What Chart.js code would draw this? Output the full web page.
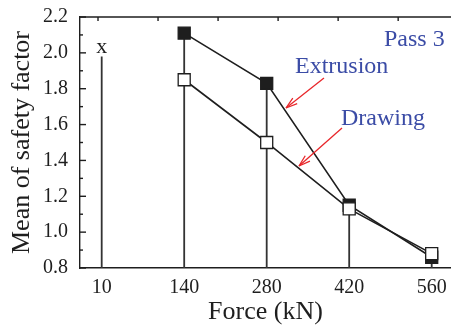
<!DOCTYPE html>
<html>
<head>
<meta charset="utf-8">
<script src="https://cdn.jsdelivr.net/npm/chart.js@4/dist/chart.umd.min.js"></script>
<style>
  html, body { margin: 0; padding: 0; background: #fff; overflow: hidden; }
  #box { width: 451px; height: 325px; position: relative; }
</style>
</head>
<body>
<div id="box"><canvas id="grafico"></canvas></div>
<script>
// dados
var forcas = ['10', '140', '280', '420', '560'];
var extrusao = [null, 2.11, 1.83, 1.15, 0.86];
var trefilacao = [null, 1.85, 1.50, 1.13, 0.88];
var hastes = [1.98, 2.11, 1.83, 1.15, 0.86];   // linhas verticais ate o eixo
var marcaX = 1.98;                              // ponto "x" em 10 kN
var yMin = 0.8, yMax = 2.2, yPasso = 0.2;
var topoTicks = [0, 100, 200, 300, 400, 500];   // marcas do eixo de cima
var topoMin = -30, topoMax = 588;

var azul = '#3b4ca6';
var vermelho = '#e8262a';
var preto = '#1e1e1e';
var serif = '"Liberation Serif", "DejaVu Serif", serif';

function pontos(valores) {
    return valores.map(function(v, i) { return { x: i, y: v }; });
}

// hastes: pares (base, topo) separados por null
var dadosHastes = [];
hastes.forEach(function(v, i) {
    dadosHastes.push({ x: i, y: yMin });
    dadosHastes.push({ x: i, y: v });
    dadosHastes.push({ x: i, y: null });
});

function seta(ctx, x1, y1, x2, y2) {
    var ang = Math.atan2(y2 - y1, x2 - x1);
    ctx.beginPath();
    ctx.moveTo(x1, y1);
    ctx.lineTo(x2, y2);
    ctx.stroke();
    ctx.beginPath();
    ctx.moveTo(x2, y2);
    ctx.lineTo(x2 - 12 * Math.cos(ang - 0.3), y2 - 12 * Math.sin(ang - 0.3));
    ctx.moveTo(x2, y2);
    ctx.lineTo(x2 - 12 * Math.cos(ang + 0.3), y2 - 12 * Math.sin(ang + 0.3));
    ctx.stroke();
}

var extras = {
    id: 'extras',
    afterDraw: function(chart) {
        var ctx = chart.ctx;
        var area = chart.chartArea;
        var xs = chart.scales.x, ys = chart.scales.y;
        ctx.save();
        ctx.strokeStyle = preto;
        ctx.lineWidth = 1.4;

        // borda de cima
        ctx.beginPath();
        ctx.moveTo(area.left, area.top);
        ctx.lineTo(area.right, area.top);
        ctx.stroke();

        // marcas para dentro no eixo y
        for (var v = yMin; v <= yMax + 0.001; v += yPasso / 2) {
            var py = ys.getPixelForValue(v);
            var maior = Math.abs(Math.round(v / yPasso) * yPasso - v) < 0.01;
            ctx.beginPath();
            ctx.moveTo(area.left, py);
            ctx.lineTo(area.left + (maior ? 6 : 3), py);
            ctx.stroke();
        }

        // marcas do eixo de cima
        topoTicks.forEach(function(t) {
            var px = area.left + (t - topoMin) / (topoMax - topoMin) * (area.right - area.left);
            ctx.beginPath();
            ctx.moveTo(px, area.top);
            ctx.lineTo(px, area.top + 4);
            ctx.stroke();
        });

        // "x" em 10 kN
        ctx.fillStyle = preto;
        ctx.font = '22px ' + serif;
        ctx.textAlign = 'center';
        ctx.textBaseline = 'alphabetic';
        ctx.fillText('x', xs.getPixelForValue(0), ys.getPixelForValue(marcaX) - 3);

        // textos em azul
        ctx.fillStyle = azul;
        ctx.font = '24px ' + serif;
        ctx.textAlign = 'left';
        ctx.fillText('Pass 3', 384, 46);
        ctx.fillText('Extrusion', 295, 73);
        ctx.fillText('Drawing', 341, 125);

        // setas vermelhas
        ctx.strokeStyle = vermelho;
        ctx.lineWidth = 1.3;
        seta(ctx, 324, 78, 286, 108);
        seta(ctx, 342, 128, 299, 166);
        ctx.restore();
    }
};

new Chart(document.getElementById('grafico'), {
    type: 'scatter',
    data: {
        datasets: [{
            label: 'Drawing',
            data: pontos(trefilacao),
            showLine: true,
            borderColor: preto,
            borderWidth: 1.6,
            pointStyle: 'rect',
            pointRadius: 8.5,
            pointBackgroundColor: '#ffffff',
            pointBorderColor: preto,
            pointBorderWidth: 1.3
        },
        {
            label: 'Extrusion',
            data: pontos(extrusao),
            showLine: true,
            borderColor: preto,
            borderWidth: 1.6,
            pointStyle: 'rect',
            pointRadius: 8.5,
            pointBackgroundColor: preto,
            pointBorderColor: preto,
            pointBorderWidth: 1.3
        },
        {
            label: 'hastes',
            data: dadosHastes,
            showLine: true,
            spanGaps: false,
            borderColor: '#333333',
            borderWidth: 1.8,
            pointRadius: 0
        }]
    },
    options: {
        responsive: true,
        maintainAspectRatio: false,
        animation: false,
        events: [],
        layout: { autoPadding: false, padding: { top: 17, right: 0, left: 0, bottom: 0 } },
        plugins: {
            legend: { display: false },
            tooltip: { enabled: false }
        },
        scales: {
            x: {
                type: 'linear',
                min: -0.263,
                max: 4.234,
                afterBuildTicks: function(scale) {
                    scale.ticks = forcas.map(function(f, i) { return { value: i }; });
                },
                afterFit: function(scale) {
                    scale.height = 57;
                    scale.paddingLeft = 0;
                    scale.paddingRight = 0;
                },
                grid: { display: false, drawTicks: false },
                border: { display: true, color: preto, width: 1.4 },
                ticks: {
                    padding: 8,
                    color: preto,
                    font: { family: serif, size: 20 },
                    callback: function(v) { return forcas[v]; }
                },
                title: {
                    display: true,
                    text: 'Force (kN)',
                    color: preto,
                    font: { family: serif, size: 26, lineHeight: 1 },
                    padding: 0
                }
            },
            y: {
                min: yMin,
                max: yMax,
                afterFit: function(scale) {
                    scale.width = 80;
                    scale.paddingTop = 0;
                    scale.paddingBottom = 0;
                },
                grid: { display: false, drawTicks: false },
                border: { display: true, color: preto, width: 1.4 },
                ticks: {
                    stepSize: yPasso,
                    padding: 12,
                    color: preto,
                    font: { family: serif, size: 20 },
                    callback: function(v) { return v.toFixed(1); }
                },
                title: {
                    display: true,
                    text: 'Mean of safety factor',
                    color: preto,
                    font: { family: serif, size: 26, lineHeight: 1 },
                    padding: { top: 9, bottom: 0 }
                }
            }
        }
    },
    plugins: [extras]
});
</script>
</body>
</html>
